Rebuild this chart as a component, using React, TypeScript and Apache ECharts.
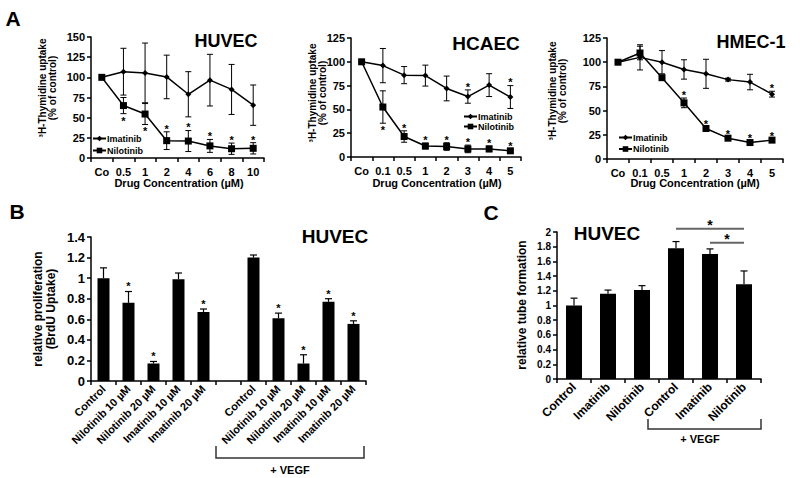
import React, { useEffect, useRef } from "react";
import * as echarts from "echarts";

const FONT = "'Liberation Sans', Arial, Helvetica, sans-serif";

// ---------- Panel A data ----------
const huvecCats = ["Co", "0.5", "1", "2", "4", "6", "8", "10"];
const huvecIma = [100, 107, 105.5, 100.5, 79, 96.5, 85, 65.5];
const huvecImaErr = [0, 29, 37, 27, 28, 32, 31, 25];
const huvecNil = [100, 65, 54.5, 21.5, 21, 15, 11.5, 12];
const huvecNilErr = [0, 10, 13, 11, 13, 8, 7, 7];
const huvecImaStars = [0, 0, 0, 0, 0, 0, 0, 0];
const huvecNilStars = [0, -1, -1, 1, 1, 1, 1, 1];

const hcaecCats = ["Co", "0.1", "0.5", "1", "2", "3", "4", "5"];
const hcaecIma = [100, 96, 86, 85.5, 72, 63.5, 75.5, 63];
const hcaecImaErr = [0, 18, 9, 11, 13, 7, 12, 12];
const hcaecNil = [100, 52.5, 21.5, 11.5, 11, 8.5, 8.5, 6.5];
const hcaecNilErr = [0, 17, 6, 3, 4, 4, 3, 2];
const hcaecImaStars = [0, 0, 0, 0, 0, 1, 0, 1];
const hcaecNilStars = [0, -1, 1, 1, 1, 1, 1, 1];

const hmecCats = ["Co", "0.1", "0.5", "1", "2", "3", "4", "5"];
const hmecIma = [100, 105, 100, 92.5, 88, 82, 79.5, 67];
const hmecImaErr = [0, 13, 12, 10, 15, 1.5, 8, 3];
const hmecNil = [100, 109.5, 84, 58, 31.5, 21.5, 17, 19.5];
const hmecNilErr = [0, 7, 1.5, 5, 1.5, 1.5, 1.5, 1.5];
const hmecImaStars = [0, 0, 0, 0, 0, 0, 0, 1];
const hmecNilStars = [0, 0, 0, 1, 1, 1, 1, 1];

// ---------- Panel B data ----------
const bCats = [
  "Control", "Nilotinib 10 µM", "Nilotinib 20 µM", "Imatinib 10 µM", "Imatinib 20 µM", "",
  "Control", "Nilotinib 10 µM", "Nilotinib 20 µM", "Imatinib 10 µM", "Imatinib 20 µM",
];
const bVals = [1.0, 0.76, 0.17, 0.99, 0.67, null, 1.2, 0.61, 0.17, 0.77, 0.555];
const bErr = [0.1, 0.11, 0.02, 0.06, 0.03, 0, 0.025, 0.05, 0.085, 0.03, 0.03];
const bStars = [0, 1, 1, 0, 1, 0, 0, 1, 1, 1, 1];

// ---------- Panel C data ----------
const cCats = ["Control", "Imatinib", "Nilotinib", "Control", "Imatinib", "Nilotinib"];
const cVals = [1.0, 1.16, 1.21, 1.78, 1.7, 1.29];
const cErr = [0.1, 0.05, 0.06, 0.09, 0.07, 0.18];
// significance brackets: [from index, to index, level]
const cSig = [
  [3, 5, 2.045],
  [4, 5, 1.855],
];

const errPairs = (vals: (number | null)[], errs: number[], twoSided: boolean) =>
  vals.map((v, i) => (v == null ? [i, 0, 0] : [i, twoSided ? v - errs[i] : v, v + errs[i]]));

const starData = (vals: (number | null)[], errs: number[], dirs: number[], twoSided: boolean) =>
  vals
    .map((v, i) => (v == null || !dirs[i] ? null : [i, twoSided ? v - errs[i] : v, v + errs[i], dirs[i]]))
    .filter((d) => d !== null);

const errRender = (cap: number, lower: boolean, lw: number) => (params: any, api: any) => {
  const i = api.value(0);
  const lo = api.value(1);
  const hi = api.value(2);
  if (hi === lo) return null;
  const p1 = api.coord([i, lo]);
  const p2 = api.coord([i, hi]);
  const style = { stroke: "#000", lineWidth: lw };
  const children: any[] = [
    { type: "line", shape: { x1: p1[0], y1: p1[1], x2: p2[0], y2: p2[1] }, style },
    { type: "line", shape: { x1: p2[0] - cap, y1: p2[1], x2: p2[0] + cap, y2: p2[1] }, style },
  ];
  if (lower) children.push({ type: "line", shape: { x1: p1[0] - cap, y1: p1[1], x2: p1[0] + cap, y2: p1[1] }, style });
  return { type: "group", children };
};

// star glyph centre sits about 0.33em below the top of its text box
const starRender = (size: number, gapAbove: number, gapBelow: number) => (params: any, api: any) => {
  const i = api.value(0);
  const dir = api.value(3);
  const p = dir > 0 ? api.coord([i, api.value(2)]) : api.coord([i, api.value(1)]);
  const c = size * 0.33;
  return {
    type: "text",
    x: p[0],
    y: dir > 0 ? p[1] - gapAbove - c : p[1] + gapBelow - c,
    style: {
      text: "*",
      fontSize: size,
      fontWeight: "bold",
      fontFamily: FONT,
      fill: "#000",
      align: "center",
      verticalAlign: "top",
    },
  };
};

const sigRender = (params: any, api: any) => {
  const a = api.coord([api.value(0), api.value(2)]);
  const b = api.coord([api.value(1), api.value(2)]);
  return {
    type: "group",
    children: [
      { type: "line", shape: { x1: a[0], y1: a[1], x2: b[0], y2: b[1] }, style: { stroke: "#666", lineWidth: 2 } },
      {
        type: "text",
        x: (a[0] + b[0]) / 2,
        y: a[1] - 6 - 14 * 0.33,
        style: { text: "*", fontSize: 14, fontWeight: "bold", fontFamily: FONT, fill: "#000", align: "center", verticalAlign: "top" },
      },
    ],
  };
};

const catAxis = (gridIndex: number, data: string[], label: any) => ({
  type: "category",
  gridIndex,
  data,
  boundaryGap: true,
  axisLine: { lineStyle: { color: "#000", width: 1.5 } },
  axisTick: { show: true, length: 4, interval: 0, alignWithLabel: false, lineStyle: { color: "#000", width: 1.5 } },
  axisLabel: { interval: 0, color: "#000", fontWeight: "bold", fontFamily: FONT, ...label },
  splitLine: { show: false },
});

const valAxis = (gridIndex: number, max: number, interval: number, fontSize: number) => ({
  type: "value",
  gridIndex,
  min: 0,
  max,
  interval,
  axisLine: { show: true, lineStyle: { color: "#000", width: 1.5 } },
  axisTick: { show: true, length: 4, lineStyle: { color: "#000", width: 1.5 } },
  splitLine: { show: false },
  axisLabel: { color: "#000", fontWeight: "bold", fontFamily: FONT, fontSize, margin: 6 },
});

const lineSeries = (name: string, idx: number, data: number[]) => ({
  type: "line",
  name,
  xAxisIndex: idx,
  yAxisIndex: idx,
  data,
  symbol: name === "Imatinib" ? "diamond" : "rect",
  symbolSize: name === "Imatinib" ? 6 : 7,
  lineStyle: { color: "#000", width: 1.5 },
  itemStyle: { color: "#000" },
  z: 3,
});

const customSeries = (idx: number, data: any[], renderItem: any, z = 2) => ({
  type: "custom",
  xAxisIndex: idx,
  yAxisIndex: idx,
  data,
  renderItem,
  clip: false,
  z,
  silent: true,
});

const panelA: [number, number[], number[], number[], number[], number[], number[]][] = [
  [0, huvecIma, huvecImaErr, huvecNil, huvecNilErr, huvecImaStars, huvecNilStars],
  [1, hcaecIma, hcaecImaErr, hcaecNil, hcaecNilErr, hcaecImaStars, hcaecNilStars],
  [2, hmecIma, hmecImaErr, hmecNil, hmecNilErr, hmecImaStars, hmecNilStars],
];

const legendBase = {
  data: ["Imatinib", "Nilotinib"],
  orient: "vertical",
  padding: 0,
  itemWidth: 13,
  itemHeight: 7,
  selectedMode: false,
  textStyle: { color: "#000", fontWeight: "bold", fontSize: 9, fontFamily: FONT, padding: [0, 0, 0, -4] },
};

const txt = (x: number, y: number, text: string, fontSize: number, extra: any = {}) => ({
  type: "text",
  x,
  y,
  style: {
    text,
    fontSize,
    fontWeight: "bold",
    fontFamily: FONT,
    fill: "#000",
    align: "center",
    verticalAlign: "middle",
    ...extra,
  },
});

const vtxt = (x: number, y: number, text: string, fontSize: number, lineHeight: number) => ({
  type: "text",
  x,
  y,
  rotation: Math.PI / 2,
  style: {
    text,
    fontSize,
    lineHeight,
    fontWeight: "bold",
    fontFamily: FONT,
    fill: "#000",
    align: "center",
    verticalAlign: "middle",
  },
});

export default function App() {
  const ref = useRef<HTMLDivElement>(null);
  useEffect(() => {
    if (!ref.current) return;
    const chart = echarts.init(ref.current, undefined, { renderer: "svg" });
    const series: any[] = [];
    panelA.forEach(([idx, ima, imaErr, nil, nilErr, imaStars, nilStars]) => {
      series.push(customSeries(idx, errPairs(ima, imaErr, true), errRender(3, true, 1)));
      series.push(customSeries(idx, errPairs(nil, nilErr, true), errRender(3, true, 1)));
      series.push(lineSeries("Imatinib", idx, ima));
      series.push(lineSeries("Nilotinib", idx, nil));
      series.push(customSeries(idx, starData(ima, imaErr, imaStars, true), starRender(11, 5, 5), 4));
      series.push(customSeries(idx, starData(nil, nilErr, nilStars, true), starRender(11, 5, 5), 4));
    });
    series.push({
      type: "bar",
      xAxisIndex: 3,
      yAxisIndex: 3,
      data: bVals.map((v) => (v == null ? "-" : v)),
      barWidth: 12,
      itemStyle: { color: "#000" },
      z: 2,
    });
    series.push(customSeries(3, errPairs(bVals, bErr, false), errRender(3.5, false, 1.2), 3));
    series.push(customSeries(3, starData(bVals, bErr, bStars, false), starRender(11, 7, 5), 4));
    series.push({
      type: "bar",
      xAxisIndex: 4,
      yAxisIndex: 4,
      data: cVals,
      barWidth: 16,
      itemStyle: { color: "#000" },
      z: 2,
    });
    series.push(customSeries(4, errPairs(cVals, cErr, false), errRender(3.5, false, 1.2), 3));
    series.push(customSeries(4, cSig, sigRender, 4));

    const aLabel = { fontSize: 11, margin: 8 };
    chart.setOption({
      animation: false,
      textStyle: { fontFamily: FONT },
      grid: [
        { left: 91, top: 37, width: 173, height: 121 },
        { left: 351, top: 38, width: 170, height: 119 },
        { left: 607, top: 38, width: 176, height: 121 },
        { left: 91, top: 237, width: 275, height: 144 },
        { left: 557, top: 232, width: 204, height: 147 },
      ],
      xAxis: [
        catAxis(0, huvecCats, aLabel),
        catAxis(1, hcaecCats, aLabel),
        catAxis(2, hmecCats, aLabel),
        catAxis(3, bCats, { fontSize: 11, rotate: 45, margin: 6 }),
        catAxis(4, cCats, { fontSize: 12, rotate: 45, margin: 6 }),
      ],
      yAxis: [
        valAxis(0, 150, 25, 11),
        valAxis(1, 125, 25, 11),
        valAxis(2, 125, 25, 11),
        valAxis(3, 1.4, 0.2, 13),
        valAxis(4, 2, 0.2, 10),
      ],
      legend: [
        { ...legendBase, left: 92, top: 134, itemGap: 3 },
        { ...legendBase, left: 463, top: 112, itemGap: 1 },
        { ...legendBase, left: 618, top: 133, itemGap: 2.5 },
      ],
      graphic: [
        txt(13, 18, "A", 21),
        txt(17, 211, "B", 21),
        txt(491, 212, "C", 21),
        txt(226, 41, "HUVEC", 18),
        txt(486, 43, "HCAEC", 19),
        txt(751, 42, "HMEC-1", 18),
        txt(335, 236, "HUVEC", 19),
        txt(607, 233, "HUVEC", 19),
        txt(179, 183, "Drug Concentration (µM)", 11),
        txt(437, 183, "Drug Concentration (µM)", 11),
        txt(695, 183, "Drug Concentration (µM)", 11),
        vtxt(47.5, 88, "³H-Thymidine uptake\n(% of control)", 10, 10),
        vtxt(317.5, 93, "³H-Thymidine uptake\n(% of control)", 10, 10),
        vtxt(557.5, 91, "³H-Thymidine uptake\n(% of control)", 10, 10),
        vtxt(44, 309, "relative proliferation\n(BrdU Uptake)", 12, 13),
        vtxt(522, 305, "relative tube formation", 12, 13),
        {
          type: "polyline",
          shape: { points: [[216, 446], [216, 458], [364, 458], [364, 446]] },
          style: { stroke: "#333", lineWidth: 1.5, fill: "none" },
        },
        txt(290, 470, "+ VEGF", 11),
        {
          type: "polyline",
          shape: { points: [[648, 419], [648, 429], [761, 429], [761, 419]] },
          style: { stroke: "#333", lineWidth: 1.5, fill: "none" },
        },
        txt(700, 439, "+ VEGF", 11),
      ],
      series,
    });
    return () => chart.dispose();
  }, []);
  return (
    <div
      ref={ref}
      style={{ position: "fixed", left: 0, top: 0, width: 800, height: 478, background: "#fff" }}
    />
  );
}
